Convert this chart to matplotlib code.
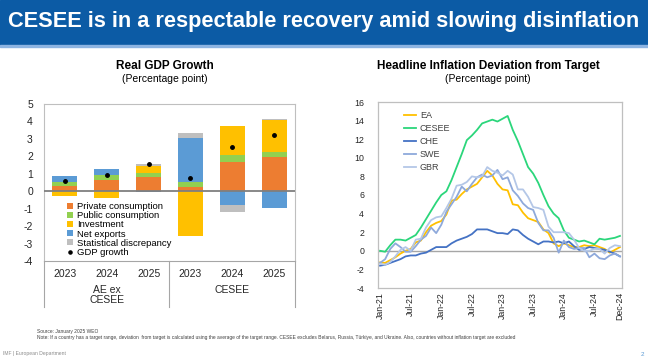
import numpy as np
import matplotlib
matplotlib.use('Agg')
import matplotlib.pyplot as plt
from matplotlib.patches import Rectangle

plt.rcParams['font.family'] = ['Liberation Sans', 'DejaVu Sans']
plt.rcParams['axes.unicode_minus'] = False

# --- left chart data: contributions to real GDP growth (pp)
years = ['2023', '2024', '2025', '2023', '2024', '2025']
groups = ['AE ex\nCESEE', 'CESEE']
private_cons = [0.29, 0.63, 0.84, 0.27, 1.70, 1.94]
public_cons = [0.23, 0.32, 0.21, 0.28, 0.38, 0.29]
investment = [-0.30, -0.36, 0.40, -2.58, 1.65, 1.83]
net_exports = [0.38, 0.33, -0.04, 2.52, -0.80, -0.95]
stat_disc = [0.0, 0.0, 0.10, 0.25, -0.38, 0.10]
gdp_growth = [0.60, 0.92, 1.56, 0.75, 2.54, 3.20]

# --- right chart data: headline inflation minus target (pp), Jan-21 .. Dec-24
months = ['Jan-21', 'Jul-21', 'Jan-22', 'Jul-22', 'Jan-23', 'Jul-23', 'Jan-24', 'Jul-24', 'Dec-24']
month_pos = [0, 6, 12, 18, 24, 30, 36, 42, 47]
ea = [-1.25, -1.3, -1.0, -0.7, -0.3, 0.0, 0.2, 0.9, 1.1, 2.0, 2.7, 3.0,
      3.2, 3.9, 5.4, 5.5, 6.1, 6.6, 6.9, 7.2, 7.9, 8.6, 8.1, 7.2,
      6.6, 6.5, 5.0, 4.9, 4.1, 3.5, 3.3, 3.1, 2.3, 1.9, 0.8, 0.5,
      0.8, 0.6, 0.4, 0.4, 0.6, 0.5, 0.6, 0.4, 0.2, -0.2, 0.1, 0.4]
cesee = [0.0, -0.1, 0.6, 1.2, 1.2, 1.1, 1.4, 1.7, 2.5, 3.4, 4.3, 5.2,
         6.0, 6.4, 7.6, 9.0, 10.4, 11.9, 12.4, 13.0, 13.7, 13.9, 14.1, 13.9,
         14.2, 14.5, 13.0, 11.8, 10.4, 9.0, 8.3, 7.3, 6.0, 4.8, 4.0, 3.5,
         2.2, 1.4, 1.2, 1.0, 1.1, 0.9, 0.7, 1.3, 1.2, 1.3, 1.4, 1.6]
che = [-1.6, -1.5, -1.3, -1.1, -0.9, -0.6, -0.5, -0.5, -0.3, -0.2, 0.1, 0.4,
       0.4, 0.4, 0.8, 1.1, 1.3, 1.5, 1.8, 2.3, 2.3, 2.3, 2.1, 1.9,
       1.9, 1.8, 2.3, 2.2, 1.7, 1.3, 1.0, 0.7, 1.0, 1.0, 0.9, 1.0,
       0.8, 1.0, 0.5, 0.1, 0.2, 0.4, 0.3, 0.2, 0.1, -0.1, -0.3, -0.6]
swe = [-1.3, -0.9, 0.2, 0.8, 0.4, -0.1, -0.1, 0.5, 1.2, 1.6, 2.5, 1.9,
       2.8, 4.2, 5.0, 5.8, 6.9, 6.4, 7.2, 7.9, 8.2, 7.9, 8.1, 8.7,
       7.7, 7.9, 6.5, 5.9, 5.1, 4.6, 4.4, 3.0, 2.2, 2.2, 1.4, -0.2,
       1.1, 0.4, 0.2, 0.3, 0.3, -0.7, -0.3, -0.8, -0.9, -0.5, -0.3, -0.6]
gbr = [-1.4, -1.5, -1.2, -0.6, 0.1, 0.4, 0.0, 1.2, 1.3, 2.5, 3.3, 3.6,
       3.7, 4.6, 5.6, 7.0, 7.1, 7.4, 8.0, 7.9, 8.0, 9.0, 8.6, 8.4,
       8.1, 8.6, 8.2, 6.6, 6.6, 5.8, 4.7, 4.6, 4.4, 2.6, 2.0, 2.0,
       2.0, 1.9, 1.2, 0.3, 0.0, 0.0, 0.2, 0.2, -0.3, 0.3, 0.6, 0.5]

W, H = 648, 364
fig = plt.figure(figsize=(W / 100, H / 100), dpi=100)

def fx(px):
  return px / W

def fy(py):
  return 1 - py / H

# banner
fig.patches.append(Rectangle((0, fy(45)), 1, 45 / H, transform=fig.transFigure,
                             color='#0C5BA5', zorder=0))
fig.patches.append(Rectangle((0, fy(47)), 1, 2 / H, transform=fig.transFigure,
                             color='#8DB4E2', zorder=0))
fig.text(fx(8), fy(21), 'CESEE is in a respectable recovery amid slowing disinflation',
         color='white', fontsize=15.7, fontweight='bold', va='center', ha='left')

# ---------------- left: GDP growth ----------------
ax1 = fig.add_axes([fx(44), fy(261), fx(251), (261 - 104) / H])
x = np.arange(len(years))
series = [('Private consumption', private_cons, '#ED7D31'),
          ('Public consumption', public_cons, '#92D050'),
          ('Investment', investment, '#FFC000'),
          ('Net exports', net_exports, '#5B9BD5'),
          ('Statistical discrepancy', stat_disc, '#BFBFBF')]
pos_base = np.zeros(len(x))
neg_base = np.zeros(len(x))
handles = []
for name, vals, col in series:
  vals = np.array(vals)
  bottoms = np.where(vals >= 0, pos_base, neg_base)
  b = ax1.bar(x, vals, 0.6, bottom=bottoms, color=col, label=name, zorder=2)
  handles.append(b)
  pos_base += np.where(vals >= 0, vals, 0)
  neg_base += np.where(vals < 0, vals, 0)
dots, = ax1.plot(x, gdp_growth, 'o', color='black', markersize=2.5, label='GDP growth', zorder=3)
handles.append(dots)
ax1.axhline(0, color='#7F7F7F', lw=1.3, zorder=3)
ax1.set_xlim(-0.5, 5.5)
ax1.set_ylim(-4, 5)
ax1.set_yticks(range(-4, 6))
ax1.set_xticks(x)
ax1.set_xticklabels(years)
ax1.tick_params(length=0, labelsize=7.5, colors='#262626')
ax1.tick_params(axis='x', pad=6)
ax1.tick_params(axis='y', pad=8)
for s in ax1.spines.values():
  s.set_color('#BFBFBF')
  s.set_linewidth(0.8)
ax1.spines['bottom'].set_color('#A6A6A6')
for xs in [-0.5, 2.5, 5.5]:
  ax1.plot([xs, xs], [0, -0.29], color='#A6A6A6', lw=0.8,
           transform=ax1.get_xaxis_transform(), clip_on=False)
ax1.text(1, -0.15, groups[0], transform=ax1.get_xaxis_transform(), ha='center', va='top',
         fontsize=7.5, color='#262626', linespacing=1.1)
ax1.text(4, -0.15, groups[1], transform=ax1.get_xaxis_transform(), ha='center', va='top',
         fontsize=7.5, color='#262626')
ax1.legend(handles=handles, loc='lower left', bbox_to_anchor=(0.07, -0.01), frameon=False,
           fontsize=6.8, handlelength=0.6, handleheight=0.6, handletextpad=0.4,
           labelspacing=0.02, borderaxespad=0.2, markerscale=0.9)
fig.text(fx(165), fy(66), 'Real GDP Growth', ha='center', va='center',
         fontsize=8.5, fontweight='bold', color='black')
fig.text(fx(165), fy(79), '(Percentage point)', ha='center', va='center',
         fontsize=7.5, color='black')

# ---------------- right: inflation deviation ----------------
ax2 = fig.add_axes([fx(378), fy(288), fx(244), (288 - 102) / H])
t = np.arange(len(ea))
ax2.axhline(0, color='#A6A6A6', lw=1.0, zorder=1)
lines = [('EA', ea, '#FFC000'), ('CESEE', cesee, '#2BD67B'), ('CHE', che, '#4472C4'),
         ('SWE', swe, '#8EA9DB'), ('GBR', gbr, '#B4C7E7')]
for name, vals, col in lines:
  ax2.plot(t, vals, color=col, lw=1.3, label=name, zorder=2)
ax2.set_xlim(-0.4, 47.4)
ax2.set_ylim(-4, 16)
ax2.set_yticks(range(-4, 17, 2))
ax2.set_xticks(month_pos)
ax2.set_xticklabels(months, rotation=90)
ax2.tick_params(length=0, labelsize=6.3, colors='#262626')
ax2.tick_params(axis='y', pad=10)
ax2.tick_params(axis='x', pad=3)
for s in ax2.spines.values():
  s.set_color('#BFBFBF')
  s.set_linewidth(0.9)
ax2.legend(loc='upper left', bbox_to_anchor=(0.09, 0.97), frameon=False, fontsize=6.5,
           handlelength=1.4, handletextpad=0.4, labelspacing=0.45, borderaxespad=0,
           labelcolor='#404040')
fig.text(fx(488), fy(66), 'Headline Inflation Deviation from Target', ha='center', va='center',
         fontsize=8.5, fontweight='bold', color='black')
fig.text(fx(488), fy(79), '(Percentage point)', ha='center', va='center',
         fontsize=7.5, color='black')

# footer
fig.text(fx(37), fy(331), 'Source: January 2025 WEO', fontsize=3.5, color='#404040', va='center')
fig.text(fx(37), fy(338), 'Note: If a country has a target range, deviation  from target is calculated '
         'using the average of the target range. CESEE excludes Belarus, Russia, Türkiye, and Ukraine. '
         'Also, countries without inflation target are excluded',
         fontsize=3.5, color='#404040', va='center')
fig.text(fx(3), fy(354), 'IMF | European Department', fontsize=3.6, color='#8C8C8C', va='center')
fig.text(fx(642), fy(354), '2', fontsize=4.5, color='#5B9BD5', va='center', ha='center')

fig.savefig('out.png', dpi=100)
